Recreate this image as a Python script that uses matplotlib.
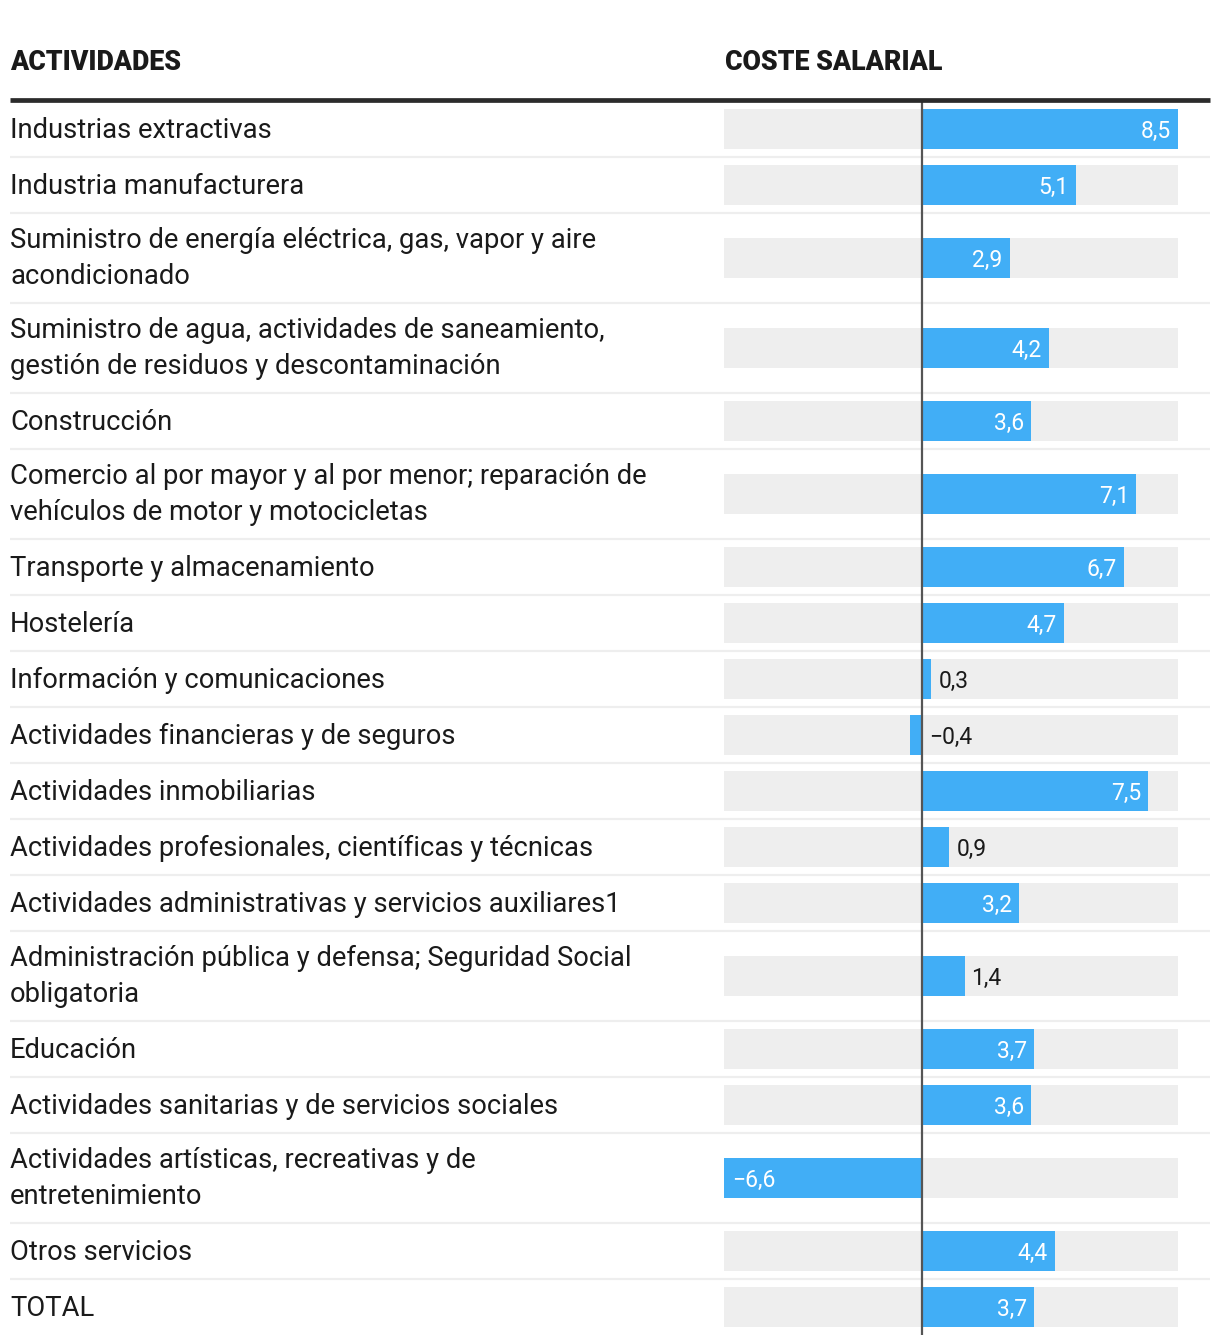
import matplotlib
matplotlib.use("Agg")
import matplotlib.pyplot as plt
from matplotlib.lines import Line2D

# ---------------- data ----------------
categories = [
    "Industrias extractivas",
    "Industria manufacturera",
    "Suministro de energía eléctrica, gas, vapor y aire\nacondicionado",
    "Suministro de agua, actividades de saneamiento,\ngestión de residuos y descontaminación",
    "Construcción",
    "Comercio al por mayor y al por menor; reparación de\nvehículos de motor y motocicletas",
    "Transporte y almacenamiento",
    "Hostelería",
    "Información y comunicaciones",
    "Actividades financieras y de seguros",
    "Actividades inmobiliarias",
    "Actividades profesionales, científicas y técnicas",
    "Actividades administrativas y servicios auxiliares1",
    "Administración pública y defensa; Seguridad Social\nobligatoria",
    "Educación",
    "Actividades sanitarias y de servicios sociales",
    "Actividades artísticas, recreativas y de\nentretenimiento",
    "Otros servicios",
    "TOTAL",
]
values = [8.5, 5.1, 2.9, 4.2, 3.6, 7.1, 6.7, 4.7, 0.3, -0.4, 7.5, 0.9, 3.2, 1.4, 3.7, 3.6, -6.6, 4.4, 3.7]
header_left = "ACTIVIDADES"
header_right = "COSTE SALARIAL"

# ---------------- style ----------------
W, H = 1220, 1344
BLUE = "#41AEF6"
GREY = "#EEEEEE"
TXT = "#1a1a1a"
FONT = ["Roboto", "DejaVu Sans"]

fig = plt.figure(figsize=(W / 100, H / 100), dpi=100)
fig.patch.set_facecolor("white")

def fx(x):
    return x / W

def fy(y):
    return 1 - y / H

# row layout
top = 101
row_h1, row_h2 = 56, 90
row_tops, row_heights = [], []
y = top
for c in categories:
    h = row_h2 if "\n" in c else row_h1
    row_tops.append(y)
    row_heights.append(h)
    y += h
bottom = y
centers = [t + h / 2 for t, h in zip(row_tops, row_heights)]

# bar axes (x in data units, y in pixel rows)
xmin, xmax = -6.6, 8.5
bx0, bx1 = 724, 1178
ax = fig.add_axes([fx(bx0), 0, fx(bx1) - fx(bx0), 1])
ax.set_xlim(xmin, xmax)
ax.set_ylim(H, 0)
ax.axis("off")

ax.barh(centers, [xmax - xmin] * len(values), left=xmin, height=40, color=GREY, zorder=1)
ax.barh(centers, values, left=0, height=40, color=BLUE, zorder=2)
ax.vlines(0, top - 1, bottom, color="#555555", linewidth=1.6, zorder=4)

pad_pt = 5.0
dy = -1.5
for c, v in zip(centers, values):
    s = f"{abs(v):.1f}".replace(".", ",")
    if v < 0:
        s = "\u2212" + s
    if abs(v) >= 2:
        if v > 0:
            ax.annotate(s, (v, c), xytext=(-pad_pt, dy), textcoords="offset points",
                        ha="right", va="center", color="white", fontsize=16.5,
                        family=FONT, zorder=5)
        else:
            ax.annotate(s, (v, c), xytext=(pad_pt + 0.5, dy), textcoords="offset points",
                        ha="left", va="center", color="white", fontsize=16.5,
                        family=FONT, zorder=5)
    else:
        ax.annotate(s, (max(v, 0), c), xytext=(pad_pt, dy), textcoords="offset points",
                    ha="left", va="center", color=TXT, fontsize=16.5,
                    family=FONT, zorder=5)

# labels
for cat, t, h in zip(categories, row_tops, row_heights):
    off = -1 if "\n" not in cat else -0.5
    fig.text(fx(10), fy(t + h / 2 - off), cat, ha="left", va="center",
             fontsize=19.7, color=TXT, family=FONT, linespacing=1.40)

# headers
fig.text(fx(10), fy(63), header_left, ha="left", va="center", fontsize=19.3,
         fontweight="black", color=TXT, family=FONT)
fig.text(fx(725), fy(63), header_right, ha="left", va="center", fontsize=19.3,
         fontweight="black", color=TXT, family=FONT)

# header rule
fig.add_artist(Line2D([fx(10), fx(1210)], [fy(99.5), fy(99.5)], color="#2b2b2b",
                      linewidth=3.4, solid_capstyle="butt"))
# row separators
for t in row_tops[1:]:
    fig.add_artist(Line2D([fx(10), fx(1210)], [fy(t), fy(t)], color=GREY,
                          linewidth=1.6, solid_capstyle="butt", zorder=0))

fig.savefig("out.png", dpi=100, facecolor="white")
